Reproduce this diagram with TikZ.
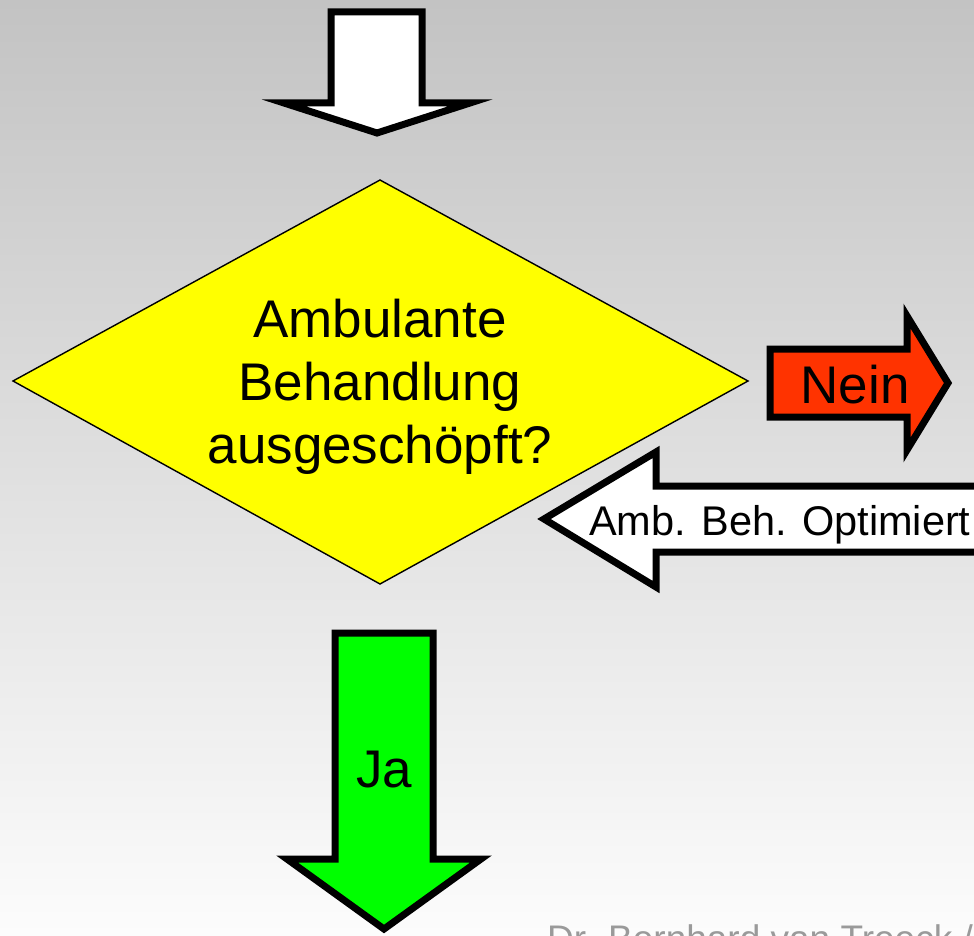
\documentclass[tikz,border=0pt]{standalone}
\usepackage{fontspec}
\setmainfont{Liberation Sans}
\definecolor{bgtop}{HTML}{C3C3C3}
\definecolor{bgbot}{HTML}{FCFCFC}
\definecolor{ayellow}{HTML}{FFFF00}
\definecolor{ared}{HTML}{FF3300}
\definecolor{agreen}{HTML}{00FF00}
\definecolor{footgray}{HTML}{9A9A9A}
\tikzset{
  blockarrow/.style={draw=black, line width=7pt, miter limit=10, line join=miter},
  decision/.style={draw=black, fill=ayellow, line width=1.4pt, line join=miter},
  bigtext/.style={inner sep=0pt, font=\fontsize{53}{63}\selectfont},
  midtext/.style={inner sep=0pt, font=\fontsize{41.5}{50}\selectfont},
  foottext/.style={inner sep=0pt, text=footgray, font=\fontsize{37}{44}\selectfont}
}
\begin{document}
\begin{tikzpicture}[x=1pt,y=-1pt]
\useasboundingbox (0,0) rectangle (974,936);
\clip (0,0) rectangle (974,936);
\shade[top color=bgtop, bottom color=bgbot] (0,0) rectangle (974,936);

% top incoming arrow
\draw[blockarrow, fill=white] (331,12) -- (422,12) -- (422,103) -- (470,103)
  -- (377,133) -- (284,103) -- (331,103) -- cycle;

% decision diamond
\draw[decision] (380,180) -- (748,381) -- (380,584) -- (13,381) -- cycle;
\node[bigtext, align=center] (q) at (380,387) {Ambulante\\Behandlung\\ausgeschöpft?};

% Nein arrow
\draw[blockarrow, fill=ared] (770,349) -- (907,349) -- (907,316) -- (948,383)
  -- (907,450) -- (907,417) -- (770,417) -- cycle;
\node[bigtext, anchor=base] (nein) at (855,403) {Nein};

% return arrow
\draw[blockarrow, fill=white] (1000,486) -- (656,486) -- (656,452) -- (544,519)
  -- (656,587) -- (656,552) -- (1000,552) -- cycle;
\node[midtext, anchor=base west] (amb) at (589,535) {Amb. Beh. Optimiert};

% Ja arrow
\draw[blockarrow, fill=agreen] (335,633) -- (433,633) -- (433,859) -- (481,859)
  -- (384,929) -- (287,859) -- (335,859) -- cycle;
\node[bigtext, anchor=base] (ja) at (384,787) {Ja};

% footer
\node[foottext, anchor=base west] (foot) at (547,951) {Dr. Bernhard van Treeck /};
\end{tikzpicture}
\end{document}
